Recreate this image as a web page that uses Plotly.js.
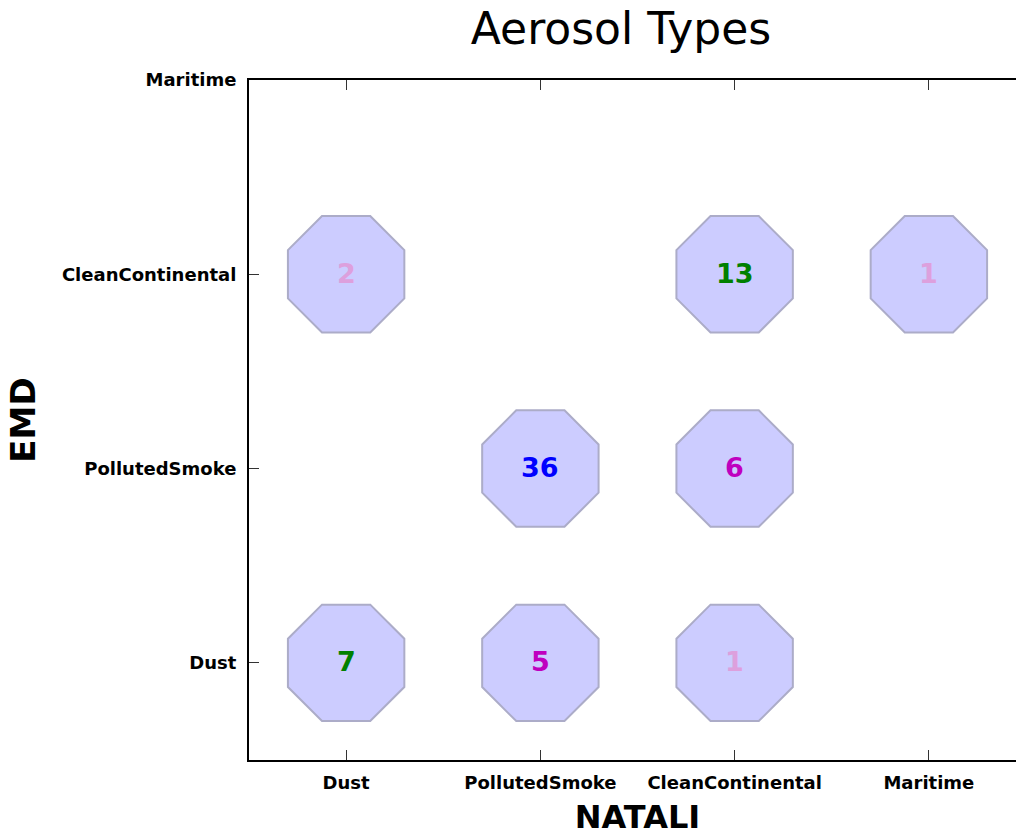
<!DOCTYPE html>
<html>
<head>
<meta charset="utf-8">
<script src="https://cdn.plot.ly/plotly-3.0.1.min.js"></script>
<style>
html, body { margin: 0; padding: 0; overflow: hidden; background: #fff; }
#chart { width: 1040px; height: 836px; }
</style>
</head>
<body>
<div id="chart"></div>
<script>
// Categories (both axes share the same aerosol types)
const categories = ["Dust", "PollutedSmoke", "CleanContinental", "Maritime"];

// Each point: NATALI class (x), EMD class (y), count
const nataliClass = ["Dust", "CleanContinental", "Maritime", "PollutedSmoke", "CleanContinental", "Dust", "PollutedSmoke", "CleanContinental"];
const emdClass    = ["CleanContinental", "CleanContinental", "CleanContinental", "PollutedSmoke", "PollutedSmoke", "Dust", "Dust", "Dust"];
const counts      = [2, 13, 1, 36, 6, 7, 5, 1];

function colorFor(n) {
  if (n >= 20) return "#0000ff";
  if (n >= 7) return "#008000";
  if (n >= 5) return "#bf00bf";
  return "#dda0dd";
}

const trace = {
  type: "scatter",
  mode: "markers",
  x: nataliClass,
  y: emdClass,
  marker: {
    symbol: "octagon",
    size: 126,
    color: "rgba(204,204,255,1)",
    line: { color: "rgba(172,172,200,1)", width: 2 }
  },
  hoverinfo: "skip",
  showlegend: false,
  cliponaxis: false
};

const annotations = counts.map((n, i) => ({
  x: nataliClass[i], y: emdClass[i], xref: "x", yref: "y",
  text: String(n), showarrow: false, yshift: 1,
  font: { family: "DejaVu Sans", size: 27, weight: "bold", color: colorFor(n) }
}));

const layout = {
  width: 1040,
  height: 836,
  margin: { l: 249, r: 14, t: 80, b: 76 },
  paper_bgcolor: "#ffffff",
  plot_bgcolor: "#ffffff",
  title: {
    text: "Aerosol Types",
    font: { family: "DejaVu Sans", size: 44, color: "#000" },
    x: 621 / 1040, xanchor: "center", xref: "container",
    y: 1 - 29 / 836, yanchor: "middle", yref: "container"
  },
  annotations: annotations,
  xaxis: {
    type: "category",
    categoryorder: "array",
    categoryarray: categories,
    range: [-0.5, 3.5],
    showgrid: false,
    zeroline: false,
    showline: true, linecolor: "#000", linewidth: 2,
    mirror: "ticks",
    ticks: "inside", ticklen: 10, tickcolor: "#333", tickwidth: 1,
    tickfont: { family: "DejaVu Sans", size: 18, weight: "bold", color: "#000" },
    ticklabelstandoff: 5,
    title: { text: "NATALI", font: { family: "DejaVu Sans", size: 32, weight: "bold", color: "#000" }, standoff: 16 }
  },
  yaxis: {
    type: "category",
    categoryorder: "array",
    categoryarray: categories,
    range: [-0.5, 3],
    showgrid: false,
    zeroline: false,
    showline: true, linecolor: "#000", linewidth: 2,
    mirror: "ticks",
    ticks: "inside", ticklen: 10, tickcolor: "#333", tickwidth: 1,
    tickfont: { family: "DejaVu Sans", size: 18, weight: "bold", color: "#000" },
    ticklabelstandoff: 7,
    title: { text: "EMD", font: { family: "DejaVu Sans", size: 34, weight: "bold", color: "#000" }, standoff: 16 }
  }
};

Plotly.newPlot("chart", [trace], layout, { displayModeBar: false, staticPlot: true });
</script>
</body>
</html>
